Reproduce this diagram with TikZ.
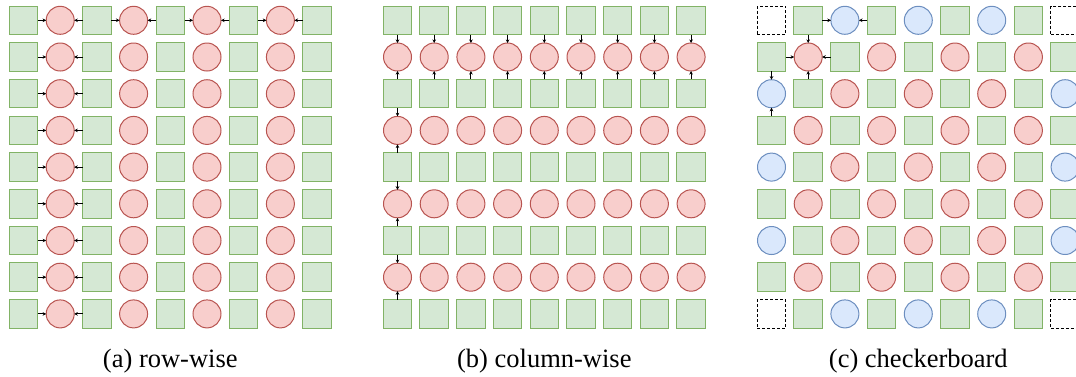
\documentclass[tikz,border=0pt]{standalone}
\usepackage{fontspec}
\setmainfont{Liberation Serif}
\usetikzlibrary{arrows.meta}

\definecolor{sqfill}{HTML}{D5E8D4}
\definecolor{sqline}{HTML}{82B366}
\definecolor{rdfill}{HTML}{F8CECC}
\definecolor{rdline}{HTML}{B85450}
\definecolor{blfill}{HTML}{DAE8FC}
\definecolor{blline}{HTML}{6C8EBF}

\begin{document}
\begin{tikzpicture}[
    x=0.5pt,
    y=-0.5pt,
    cell/.style={
        line width=0.5pt,
        inner sep=0pt,
        outer sep=0pt
    },
    sq/.style={cell, rectangle, draw=sqline, fill=sqfill, minimum size=14.25pt},
    rdci/.style={cell, circle, draw=rdline, fill=rdfill, minimum size=14pt},
    blci/.style={cell, circle, draw=blline, fill=blfill, minimum size=14pt},
    pad/.style={cell, rectangle, draw=black, fill=white,
        dash pattern=on 1.5pt off 1pt, minimum size=14.25pt},
    conn/.style={-{Stealth[length=1.8pt, width=1.8pt]}, line width=0.5pt},
    capt/.style={anchor=base, font=\fontsize{13.25}{16}\selectfont}
]
\useasboundingbox (0,0) rectangle (1076,376);

% ============================================================
% (a) ROW-WISE
% ============================================================
\foreach \i in {0,...,8}{
    \foreach \j in {0,...,8}{
        \ifodd\j
            \node[rdci] (a-\i-\j) at ({23.5+36.7*\j},{20.3+36.7*\i}) {};
        \else
            \node[sq] (a-\i-\j) at ({23.5+36.7*\j},{20.3+36.7*\i}) {};
        \fi
    }
}

\foreach \j in {1,3,5,7}{
    \pgfmathtruncatemacro\jl{\j-1}
    \pgfmathtruncatemacro\jr{\j+1}
    \draw[conn] (a-0-\jl) -- (a-0-\j);
    \draw[conn] (a-0-\jr) -- (a-0-\j);
}
\foreach \i in {1,...,8}{
    \draw[conn] (a-\i-0) -- (a-\i-1);
    \draw[conn] (a-\i-2) -- (a-\i-1);
}

\node[capt] (capa) at (170.3,367) {(a) row-wise};

% ============================================================
% (b) COLUMN-WISE
% ============================================================
\foreach \i in {0,...,8}{
    \foreach \j in {0,...,8}{
        \ifodd\i
            \node[rdci] (b-\i-\j) at ({397.5+36.7*\j},{20.3+36.7*\i}) {};
        \else
            \node[sq] (b-\i-\j) at ({397.5+36.7*\j},{20.3+36.7*\i}) {};
        \fi
    }
}

\foreach \i in {1,3,5,7}{
    \pgfmathtruncatemacro\iu{\i-1}
    \pgfmathtruncatemacro\id{\i+1}
    \draw[conn] (b-\iu-0) -- (b-\i-0);
    \draw[conn] (b-\id-0) -- (b-\i-0);
}
\foreach \j in {1,...,8}{
    \draw[conn] (b-0-\j) -- (b-1-\j);
    \draw[conn] (b-2-\j) -- (b-1-\j);
}

\node[capt] (capb) at (544.3,367) {(b) column-wise};

% ============================================================
% (c) CHECKERBOARD
% ============================================================
\foreach \i in {0,...,8}{
    \foreach \j in {0,...,8}{
        \pgfmathtruncatemacro\s{\i+\j}
        \pgfmathtruncatemacro\bd{(\i==0||\i==8)+(\j==0||\j==8)}
        \ifodd\s
            \node[sq] (c-\i-\j) at ({771.5+36.7*\j},{20.3+36.7*\i}) {};
        \else
            \ifcase\bd
                \node[rdci] (c-\i-\j) at ({771.5+36.7*\j},{20.3+36.7*\i}) {};
            \or
                \node[blci] (c-\i-\j) at ({771.5+36.7*\j},{20.3+36.7*\i}) {};
            \or
                \node[pad] (c-\i-\j) at ({771.5+36.7*\j},{20.3+36.7*\i}) {};
            \fi
        \fi
    }
}

\draw[conn] (c-0-1) -- (c-0-2);
\draw[conn] (c-0-3) -- (c-0-2);
\draw[conn] (c-0-1) -- (c-1-1);
\draw[conn] (c-1-0) -- (c-1-1);
\draw[conn] (c-1-2) -- (c-1-1);
\draw[conn] (c-2-1) -- (c-1-1);
\draw[conn] (c-1-0) -- (c-2-0);
\draw[conn] (c-3-0) -- (c-2-0);

\node[capt] (capc) at (918.3,367) {(c) checkerboard};

\end{tikzpicture}
\end{document}
